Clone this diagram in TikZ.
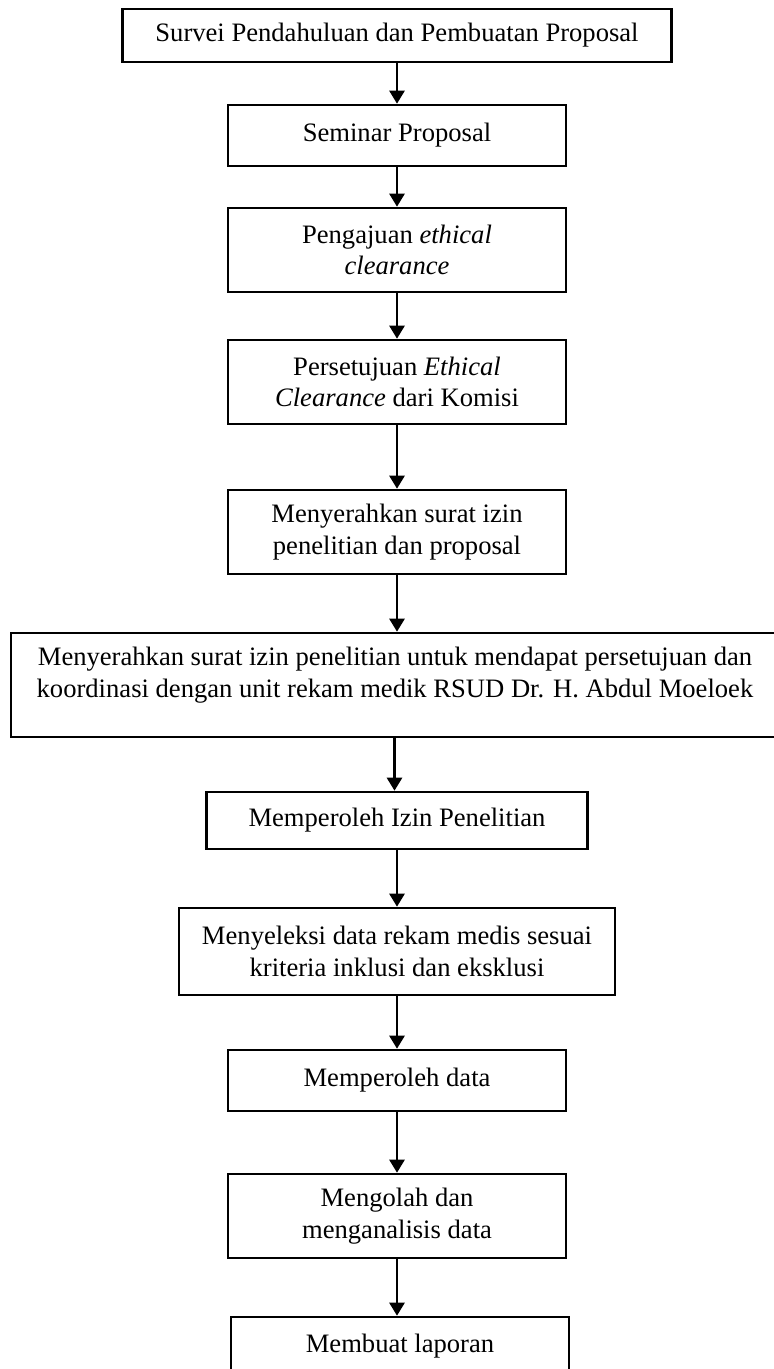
\documentclass[tikz,border=0pt]{standalone}
\usepackage{fontspec}
\setmainfont{Liberation Serif}
\usetikzlibrary{arrows.meta}

\tikzset{
  box/.style={draw, rectangle, line width=1.3pt, inner sep=0pt, align=center,
    font=\fontsize{13.3}{15.85}\selectfont},
  label text/.style={inner sep=0pt, align=center, font=\fontsize{13.3}{15.85}\selectfont},
  flow/.style={-{Triangle[length=6.5pt,width=7.5pt]}, line width=1.3pt}
}

\begin{document}
\begin{tikzpicture}[x=0.5pt,y=-0.5pt]
    \useasboundingbox (0,0) rectangle (774,1369);

    % Steps of the research
    \node[box, minimum width=274.5pt, minimum height=26.5pt] (survei) at (397,35.5)
        {Survei Pendahuluan dan Pembuatan Proposal};
    \node[box, minimum width=169pt, minimum height=30.5pt] (seminar) at (397,135.5)
        {Seminar Proposal};
    \node[box, minimum width=169pt, minimum height=42pt] (pengajuan) at (397,250)
        {Pengajuan \textit{ethical}\\\textit{clearance}};
    \node[box, minimum width=169pt, minimum height=42pt] (persetujuan) at (397,382)
        {Persetujuan \textit{Ethical}\\\textit{Clearance} dari Komisi};
    \node[box, minimum width=169pt, minimum height=42pt] (menyerahkan) at (397,532)
        {Menyerahkan surat izin\\penelitian dan proposal};

    % Wide box, text sits high
    \node[box, minimum width=383.5pt, minimum height=52pt] (koordinasi) at (394.5,685) {};
    \node[label text] (koordinasitext) at (395,675)
        {Menyerahkan surat izin penelitian untuk mendapat persetujuan dan\\
         koordinasi dengan unit rekam medik RSUD Dr. H. Abdul Moeloek};

    \node[box, minimum width=190.5pt, minimum height=28.5pt] (izin) at (397,820.5)
        {Memperoleh Izin Penelitian};
    \node[box, minimum width=218pt, minimum height=43.5pt] (seleksi) at (397,951.5)
        {Menyeleksi data rekam medis sesuai\\kriteria inklusi dan eksklusi};
    \node[box, minimum width=169pt, minimum height=30.5pt] (data) at (397,1080.5)
        {Memperoleh data};
    \node[box, minimum width=169pt, minimum height=42pt] (olah) at (397,1216)
        {Mengolah dan\\menganalisis data};
    \node[box, minimum width=169pt, minimum height=29pt] (laporan) at (400,1346)
        {Membuat laporan};

    % Arrows
    \foreach \a/\b in {survei/seminar, seminar/pengajuan, pengajuan/persetujuan,
        persetujuan/menyerahkan, menyerahkan/koordinasi, koordinasi/izin,
        izin/seleksi, seleksi/data, data/olah, olah/laporan}
        \draw[flow] (\a.south) -- (\b.north -| \a.south);
\end{tikzpicture}
\end{document}
